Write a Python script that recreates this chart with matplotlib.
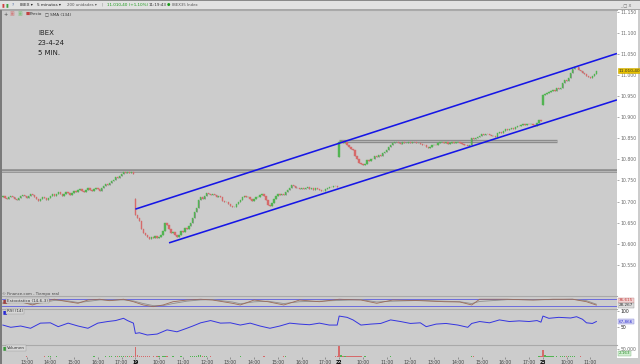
import matplotlib
matplotlib.use("Agg")
import matplotlib.pyplot as plt
from matplotlib.patches import Rectangle
from matplotlib.ticker import FuncFormatter, FixedLocator
from matplotlib.transforms import blended_transform_factory

# ---------------- data ----------------
first_open = 10710
close_18 = [10712, 10708, 10705, 10710, 10714, 10711, 10706, 10703, 10708, 10713,
            10716, 10712, 10709, 10714, 10718, 10715, 10710, 10706, 10702, 10707,
            10711, 10708, 10704, 10709, 10713, 10717, 10714, 10719, 10722, 10718,
            10714, 10719, 10723, 10720, 10716, 10721, 10725, 10722, 10727, 10730,
            10726, 10722, 10727, 10731, 10728, 10724, 10729, 10733, 10730, 10726,
            10731, 10737, 10742, 10740, 10745, 10748, 10752, 10757, 10755, 10760,
            10766, 10770, 10768, 10771, 10767, 10769, 10765]
close_19 = [10668, 10660, 10655, 10636, 10626, 10620, 10615, 10612, 10617, 10614,
            10618, 10613, 10616, 10620, 10630, 10648, 10645, 10636, 10626, 10628,
            10620, 10615, 10620, 10631, 10628, 10638, 10636, 10643, 10650, 10660,
            10675, 10685, 10703, 10710, 10707, 10712, 10720, 10718, 10715, 10718,
            10715, 10711, 10713, 10710, 10702, 10698, 10700, 10695, 10690, 10686,
            10688, 10695, 10698, 10703, 10710, 10713, 10710, 10711, 10707, 10702,
            10705, 10710, 10711, 10715, 10718, 10712, 10703, 10692, 10690, 10697,
            10706, 10712, 10717, 10715, 10719, 10716, 10722, 10727, 10733, 10740,
            10737, 10733, 10731, 10730, 10733, 10729, 10732, 10735, 10730, 10733,
            10728, 10731, 10729, 10727, 10724, 10726, 10730, 10732, 10735, 10734,
            10737, 10736, 10735]
close_22 = [10840, 10843, 10838, 10840, 10835, 10829, 10825, 10821, 10808, 10802,
            10792, 10790, 10786, 10790, 10798, 10796, 10802, 10800, 10808, 10806,
            10810, 10808, 10814, 10818, 10822, 10829, 10835, 10838, 10840, 10841,
            10838, 10837, 10840, 10838, 10839, 10841, 10838, 10842, 10840, 10838,
            10839, 10836, 10835, 10833, 10830, 10828, 10830, 10833, 10835, 10834,
            10838, 10840, 10841, 10838, 10840, 10837, 10839, 10841, 10838, 10840,
            10841, 10838, 10836, 10835, 10833, 10832, 10834, 10850, 10848, 10851,
            10853, 10856, 10860, 10858, 10861, 10859, 10857, 10855, 10856, 10853,
            10862, 10865, 10863, 10867, 10871, 10869, 10872, 10874, 10872, 10876,
            10880, 10878, 10881, 10884, 10882, 10885, 10883, 10884, 10882, 10880,
            10886, 10893, 10890]
close_23 = [10952, 10955, 10958, 10960, 10962, 10965, 10963, 10968, 10966, 10970,
            10980, 10988, 10985, 10993, 11005, 11014, 11018, 11020, 11013, 11010,
            11005, 11003, 10998, 10995, 10992, 10997, 11003, 11010.4]
day_open = {103: 10705, 206: 10805, 309: 10928}
extra_high = {103: 10708}

vol_18 = [2, 1, 2, 3, 1, 2, 2, 1, 3, 2, 1, 2, 4, 2, 1, 2, 3, 2, 1, 2,
          3, 5, 2, 4, 6, 3, 2, 4, 3, 2, 1, 2, 3, 2, 1, 2, 2, 3, 1, 2,
          2, 3, 2, 1, 2, 3, 4, 2, 3, 2, 2, 3, 4, 3, 5, 4, 3, 6, 4, 5,
          4, 6, 5, 7, 4, 5, 8]
vol_19 = [62, 14, 9, 7, 6, 5, 4, 5, 3, 4, 3, 4, 5, 3, 4, 6, 4, 3, 3, 4,
          3, 2, 3, 4, 3, 3, 2, 3, 4, 5, 6, 7, 12, 10, 6, 5, 4, 3, 4, 3,
          2, 3, 2, 3, 2, 2, 3, 2, 2, 3, 2, 2, 3, 4, 3, 2, 2, 2, 3, 2,
          2, 3, 2, 2, 3, 4, 3, 2, 2, 3, 2, 2, 3, 2, 2, 4, 5, 3, 2, 2,
          2, 3, 2, 2, 1, 2, 2, 3, 2, 1, 2, 2, 1, 2, 2, 3, 2, 2, 3, 2,
          3, 4, 6]
vol_22 = [69, 12, 8, 6, 5, 6, 7, 8, 6, 5, 4, 5, 3, 4, 3, 3, 2, 3, 2, 3,
          2, 2, 3, 2, 3, 3, 4, 3, 2, 2, 2, 1, 2, 2, 1, 2, 2, 1, 2, 2,
          2, 2, 1, 2, 2, 3, 2, 2, 2, 3, 2, 2, 1, 2, 2, 1, 2, 2, 2, 1,
          2, 2, 2, 3, 2, 2, 3, 8, 4, 3, 2, 3, 2, 2, 2, 2, 1, 2, 2, 3,
          2, 2, 2, 3, 2, 2, 2, 3, 2, 2, 2, 1, 2, 2, 2, 2, 1, 2, 2, 3,
          3, 5, 4]
vol_23 = [44, 10, 7, 5, 4, 4, 3, 4, 3, 4, 5, 6, 4, 5, 6, 5, 4, 3, 3, 4,
          3, 2, 3, 2, 2, 3, 2, 2]
vol_red_idx = [103, 206, 309]

rsi_idx = [36, 40, 45, 50, 55, 60, 64, 69, 74, 79, 84, 89, 93, 97, 99, 102, 103, 105, 109, 114,
           119, 124, 129, 132, 136, 141, 146, 151, 156, 161, 166, 171, 176, 181, 186, 191, 196, 201, 205, 206,
           210, 213, 217, 222, 227, 232, 237, 242, 247, 250, 255, 260, 266, 271, 273, 277, 282, 287, 292, 297,
           302, 306, 308, 309, 312, 317, 323, 326, 329, 331, 334, 336]
rsi_val = [56, 49, 53, 46, 62, 63, 51, 62, 53, 46, 62, 67, 70, 77, 70, 62, 30, 32, 25, 28,
           41, 35, 46, 53, 63, 70, 62, 63, 56, 62, 53, 46, 53, 62, 59, 57, 62, 56, 56, 84,
           80, 72, 56, 59, 61, 72, 67, 61, 63, 51, 59, 61, 56, 49, 61, 67, 63, 72, 67, 69,
           67, 70, 65, 84, 77, 80, 78, 82, 74, 63, 61, 67]

stk_idx = [36, 45, 51, 56, 62, 69, 74, 79, 85, 90, 97, 102, 107, 112, 117, 122, 129, 136, 142, 152,
           156, 163, 170, 178, 186, 196, 206, 217, 225, 233, 247, 259, 267, 273, 277, 291, 304, 314, 324, 331, 336]
stk_val = [44, 56, 31, 56, 75, 56, 44, 69, 75, 64, 75, 56, 31, 18, 31, 56, 69, 75, 69, 44,
           31, 69, 56, 31, 69, 56, 75, 69, 44, 69, 64, 56, 54, 31, 75, 75, 69, 75, 75, 56, 30]
std_val = [48, 52, 40, 48, 66, 62, 50, 58, 70, 68, 70, 62, 42, 26, 26, 42, 60, 70, 72, 54,
           40, 55, 60, 42, 56, 60, 66, 72, 54, 60, 66, 60, 56, 42, 58, 72, 71, 72, 75, 64, 37]

hour_idx = [48, 60, 72, 84, 96, 103, 115, 127, 139, 151, 163, 175, 187, 199,
            206, 218, 230, 242, 254, 266, 278, 290, 302, 309, 321, 333]
hour_lbl = ['13:00', '14:00', '15:00', '16:00', '17:00', '19', '10:00', '11:00', '12:00', '13:00',
            '14:00', '15:00', '16:00', '17:00', '22', '10:00', '11:00', '12:00', '13:00', '14:00',
            '15:00', '16:00', '17:00', '23', '10:00', '11:00']

price_ticks = [10550, 10600, 10650, 10700, 10750, 10800, 10850, 10900, 10950, 11000, 11050, 11100, 11150]
support_full = 10772
resist_22 = (206, 316, 10844)
chan_upper = ((103, 10682), (346.4, 11051))
chan_lower = ((120, 10602), (346.4, 10941))
last_price = 11010.4

# ---------------- layout ----------------
W, H = 640, 364
BG = '#cccccc'
XL = (35.32, 346.43)
fig = plt.figure(figsize=(W / 100, H / 100), dpi=100, facecolor=BG)


def rect(x0, y0, x1, y1):
    return [x0 / W, 1 - y1 / H, (x1 - x0) / W, (y1 - y0) / H]


def fig_rect(x0, y0, x1, y1, color):
    fig.patches.append(Rectangle((x0 / W, 1 - y1 / H), (x1 - x0) / W, (y1 - y0) / H,
                                 transform=fig.transFigure, facecolor=color,
                                 edgecolor='none', zorder=-10))


# white right label column and toolbar
fig_rect(617, 10, 638, 358, 'white')
fig_rect(0, 0, 640, 9, '#e2e2e2')
fig_rect(0, 0, 640, 1.2, '#8a8a8a')
fig_rect(0, 9, 640, 10, '#a8a8a8')
fig_rect(0, 10, 1.5, 364, '#7a7a7a')

ax = fig.add_axes(rect(1.5, 10, 617, 292))
ax_st = fig.add_axes(rect(1.5, 296, 617, 309))
ax_rsi = fig.add_axes(rect(1.5, 309, 617, 344))
ax_vol = fig.add_axes(rect(1.5, 345, 617, 357))

for a in (ax, ax_st, ax_rsi, ax_vol):
    a.set_facecolor(BG)
    a.set_xlim(*XL)
    for s in ('left', 'right', 'bottom'):
        a.spines[s].set_visible(False)
    a.spines['top'].set_color('#a9a9a9')
    a.spines['top'].set_linewidth(0.8)
    a.tick_params(axis='x', bottom=False, labelbottom=False)
    a.yaxis.tick_right()
    a.tick_params(axis='y', labelsize=3.3, labelcolor='#6a6a6a', color='#8a8a8a',
                  length=1.5, width=0.5, pad=1.2)

# ---------------- candles ----------------
idx = list(range(36, 103)) + list(range(103, 206)) + list(range(206, 309)) + list(range(309, 337))
closes = close_18 + close_19 + close_22 + close_23
vols = vol_18 + vol_19 + vol_22 + vol_23
opens = []
for j, i in enumerate(idx):
    if j == 0:
        opens.append(first_open)
    elif i in day_open:
        opens.append(day_open[i])
    else:
        opens.append(closes[j - 1])
up = [c >= o for o, c in zip(opens, closes)]
GREEN, RED = '#52b452', '#d66a6a'
cols = [GREEN if u else RED for u in up]
highs = [max(o, c, extra_high.get(i, 0)) for i, o, c in zip(idx, opens, closes)]
lows = [min(o, c) for o, c in zip(opens, closes)]
ax.vlines(idx, lows, highs, color='#6a6a6a', lw=0.4, zorder=2)
ax.bar(idx, [c - o for o, c in zip(opens, closes)], bottom=opens, width=0.7,
       color=cols, edgecolor=cols, linewidth=0.3, zorder=3)

ax.set_ylim(10485.5, 11154.1)
ax.yaxis.set_major_locator(FixedLocator(price_ticks))
ax.yaxis.set_major_formatter(FuncFormatter(lambda v, p: f"{v:,.0f}".replace(',', '.')))

# horizontal levels
ax.axhline(support_full, color='#8c8c8c', lw=2.6, zorder=1)
ax.axhline(support_full, color='#b4b4b4', lw=0.8, zorder=1)
ax.hlines(resist_22[2], resist_22[0], resist_22[1], color='#8c8c8c', lw=2.4, zorder=1)
ax.hlines(resist_22[2], resist_22[0], resist_22[1], color='#b4b4b4', lw=0.7, zorder=1)
# channel
for (x0, y0), (x1, y1) in (chan_upper, chan_lower):
    ax.plot([x0, x1], [y0, y1], color='#1515e6', lw=1.15, zorder=4, solid_capstyle='butt')

tr = blended_transform_factory(ax.transAxes, ax.transData)
ax.text(1.002, last_price, '11.010,40', transform=tr, fontsize=3.1, color='#333333',
        va='center', ha='left', zorder=10,
        bbox=dict(boxstyle='square,pad=0.15', fc='#e6c000', ec='#c9a800', lw=0.4))

fig.text(38 / W, 1 - 33 / H, 'IBEX', fontsize=5, color='#222222', va='center')
fig.text(38 / W, 1 - 43 / H, '23-4-24', fontsize=5, color='#222222', va='center')
fig.text(38 / W, 1 - 53 / H, '5 MIN.', fontsize=5, color='#222222', va='center')

# ---------------- stochastic ----------------
ax_st.set_ylim(0, 100)
ax_st.axhline(80, color='#6c6cdc', lw=0.7)
ax_st.axhline(20, color='#6c6cdc', lw=0.7)
ax_st.plot(stk_idx, std_val, color='#8f8f8f', lw=0.6)
ax_st.plot(stk_idx, stk_val, color='#9a6a5a', lw=0.6)
ax_st.set_yticks([])
trs = blended_transform_factory(ax_st.transAxes, ax_st.transData)
ax_st.text(1.003, 68, '36,615', transform=trs, fontsize=3.0, color='#c04040', va='center', ha='left',
           bbox=dict(boxstyle='square,pad=0.1', fc='#f1d2d2', ec='#c08080', lw=0.3))
ax_st.text(1.003, 30, '28,267', transform=trs, fontsize=3.0, color='#333333', va='center', ha='left',
           bbox=dict(boxstyle='square,pad=0.1', fc='#dedede', ec='#909090', lw=0.3))

# ---------------- RSI ----------------
ax_rsi.set_ylim(-3, 106)
ax_rsi.plot(rsi_idx, rsi_val, color='#3434e0', lw=0.7)
ax_rsi.yaxis.set_major_locator(FixedLocator([50, 100]))
ax_rsi.yaxis.set_major_formatter(FuncFormatter(lambda v, p: f"{v:.0f}"))
ax_rsi.tick_params(axis='y', labelcolor='#222222')
trr = blended_transform_factory(ax_rsi.transAxes, ax_rsi.transData)
ax_rsi.text(1.003, 66, '67,866', transform=trr, fontsize=3.0, color='#2a2ad0', va='center', ha='left',
            bbox=dict(boxstyle='square,pad=0.1', fc='#d2d2f3', ec='#8080d0', lw=0.3))

# ---------------- volume ----------------
ax_vol.set_ylim(0, 75)
vcols = [RED if i in vol_red_idx else c for i, c in zip(idx, cols)]
ax_vol.bar(idx, vols, width=0.7, color=vcols, linewidth=0)
ax_vol.yaxis.set_major_locator(FixedLocator([50]))
ax_vol.yaxis.set_major_formatter(FuncFormatter(lambda v, p: '50.000'))
trv = blended_transform_factory(ax_vol.transAxes, ax_vol.transData)
ax_vol.text(1.003, 22, '2.163', transform=trv, fontsize=3.0, color='#2a8a2a', va='center', ha='left',
            bbox=dict(boxstyle='square,pad=0.1', fc='#d2efd2', ec='#80b080', lw=0.3))

ax_vol.tick_params(axis='x', bottom=True, labelbottom=True, labelsize=3.3, labelcolor='#444444',
                   color='#777777', length=1.2, width=0.5, pad=0.6)
ax_vol.set_xticks(hour_idx)
ax_vol.set_xticklabels(hour_lbl)
for t in ax_vol.get_xticklabels():
    if ':' not in t.get_text():
        t.set_fontweight('bold')
        t.set_color('#000000')

# ---------------- panel legends ----------------
def legend_box(y, txt, sq):
    fig.text(3 / W, 1 - y / H, '\u25A0', fontsize=3.4, color=sq, va='center', ha='left')
    fig.text(7 / W, 1 - y / H, txt, fontsize=3.0, color='#333333', va='center', ha='left',
             bbox=dict(boxstyle='square,pad=0.15', fc='#d6d6d6', ec='#9a9a9a', lw=0.3))

fig.text(2 / W, 1 - 294 / H, '\u00a9 Finance.com - Tiempo real', fontsize=2.8, color='#444444',
         va='center', ha='left')
legend_box(300.5, 'Estocástico (14-6-3)', '#a04040')
legend_box(311.5, 'RSI (14)', '#2828d8')
legend_box(348, 'Volumen', '#3a9a3a')

# ---------------- toolbar ----------------
ty = 1 - 5 / H
fs = 3.0
fig.text(2 / W, ty, '\u25AE', fontsize=3.6, color='#d04040', va='center')
fig.text(5 / W, ty, '\u25AE', fontsize=3.6, color='#40a040', va='center')
fig.text(12 / W, ty, '?', fontsize=fs, color='#4060a0', va='center')
fig.text(20 / W, ty, 'IBEX \u25BE', fontsize=fs, color='#222222', va='center')
fig.text(37 / W, ty, '5 minutos \u25BE', fontsize=fs, color='#222222', va='center')
fig.text(67 / W, ty, '200 unidades \u25BE', fontsize=2.8, color='#555555', va='center')
fig.text(101 / W, ty, '|', fontsize=fs, color='#888888', va='center')
fig.text(107 / W, ty, '11.010,40 (+1,10%)', fontsize=fs, color='#1a9a1a', va='center')
fig.text(149 / W, ty, '11:19:43', fontsize=fs, color='#333333', va='center')
fig.text(167 / W, ty, '\u25CF', fontsize=2.8, color='#1a9a1a', va='center')
fig.text(172 / W, ty, 'IBEX35 Index', fontsize=2.8, color='#555555', va='center')
fig.text(620 / W, ty, '_ \u25A1 X', fontsize=3.0, color='#666666', va='center')

ry = 1 - 14 / H
fig.text(3 / W, ry, '+', fontsize=3.6, color='#444444', va='center')
fig.text(10 / W, ry, '\u25A3', fontsize=3.6, color='#d08080', va='center')
fig.text(18 / W, ry, '\u25A3', fontsize=3.6, color='#80c080', va='center')
fig.text(26 / W, ry, '\u25A0', fontsize=3.2, color='#c04040', va='center')
fig.text(30 / W, ry, 'Precio', fontsize=3.0, color='#333333', va='center')
fig.text(45 / W, ry, '\u25A1 SMA (134)', fontsize=3.0, color='#333333', va='center')

fig.savefig('out.png', dpi=100, facecolor=BG)
